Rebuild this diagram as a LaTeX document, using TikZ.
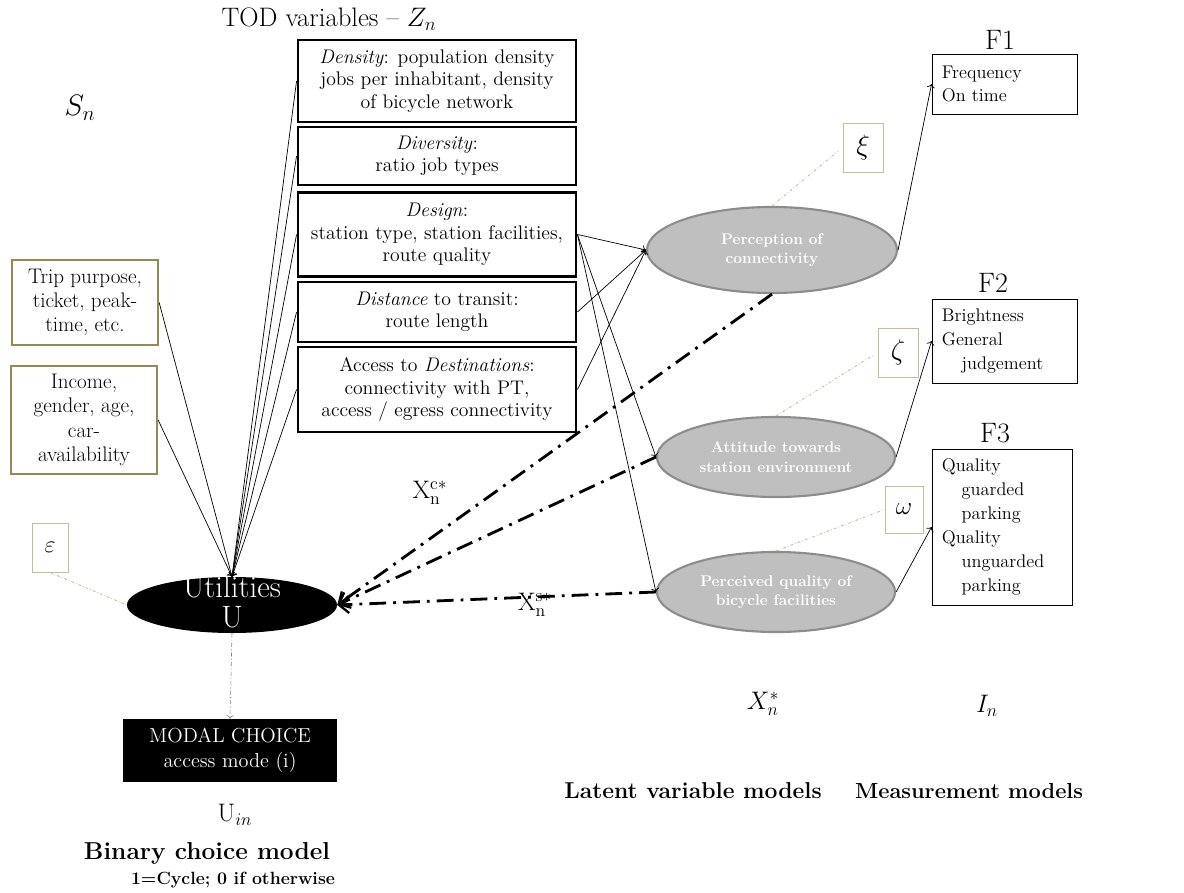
\RequirePackage{fix-cm}
\documentclass[tikz,border=0pt]{standalone}
\usepackage{amsmath, amssymb}
\usepackage{fontspec}
\usepackage{tikz}
\usetikzlibrary{shapes.geometric, arrows.meta, positioning}

\definecolor{olivebox}{HTML}{948A54}
\definecolor{tanline}{HTML}{C4BD97}
\definecolor{latentfill}{HTML}{BFBFBF}
\definecolor{latentdraw}{HTML}{8C8C8C}

\tikzset{
    todbox/.style={draw, line width=2pt, align=center, minimum width=6.95cm, inner sep=0pt, font=\fontsize{14}{15.8}\selectfont},
    sbox/.style={draw=olivebox, line width=1.6pt, align=center, minimum width=3.65cm, inner sep=0pt, font=\fontsize{15}{17.3}\selectfont},
    errbox/.style={draw=tanline, line width=0.6pt, minimum width=1cm, minimum height=1.225cm, inner sep=0pt, font=\fontsize{20}{22}\selectfont},
    latent/.style={ellipse, draw=latentdraw, line width=1.5pt, fill=latentfill, text=white, align=center, inner sep=0pt, font=\bfseries\fontsize{11}{14}\selectfont},
    measbox/.style={draw, line width=0.6pt, align=left, inner xsep=0.25cm, inner ysep=0pt, font=\fontsize{13}{17}\selectfont},
    thinarrow/.style={->, line width=0.5pt},
    latentarrow/.style={-{Straight Barb[length=7pt,width=12pt,line width=1.6pt]}, line width=2pt, dash pattern=on 12pt off 5pt on 2pt off 5pt},
    errline/.style={draw=tanline, line width=0.6pt, dash pattern=on 2pt off 1.5pt on 0.5pt off 1.5pt},
    bigtext/.style={font=\fontsize{18}{20}\selectfont},
    headtext/.style={font=\bfseries\fontsize{15.5}{18}\selectfont},
}

\begin{document}
\begin{tikzpicture}[x=0.025cm, y=-0.025cm]
    \useasboundingbox (0,0) rectangle (1184,893);

    \node[font=\fontsize{19}{22}\selectfont] (todtitle) at (329,19) {TOD variables -- $Z_n$};
    \node[todbox, minimum height=2.05cm] (density) at (437,81) {\textit{Density}: population density\\jobs per inhabitant, density\\of bicycle network};
    \node[todbox, minimum height=1.45cm] (diversity) at (437,156) {\textit{Diversity}:\\ratio job types};
    \node[todbox, minimum height=2.1cm] (design) at (437,234.5) {\textit{Design}:\\station type, station facilities,\\route quality};
    \node[todbox, minimum height=1.5cm] (distance) at (437,312) {\textit{Distance} to transit:\\route length};
    \node[todbox, minimum height=2.125cm] (access) at (437,389.5) {Access to \textit{Destinations}:\\connectivity with PT,\\access / egress connectivity};

    \node[font=\fontsize{21}{24}\selectfont] (sn) at (80,108) {$S_n$};
    \node[sbox, minimum height=2.125cm] (trip) at (85,302.5) {Trip purpose,\\ticket, peak-\\time, etc.};
    \node[sbox, minimum height=2.7cm] (income) at (84,420) {Income,\\gender, age,\\car-\\availability};
    \node[errbox, minimum width=0.9cm, font=\fontsize{17}{20}\selectfont] (eps) at (50,547.5) {$\varepsilon$};

    \node[ellipse, fill=black, minimum width=5.25cm, minimum height=1.4cm, inner sep=0pt] (util) at (232,605) {};
    \node[text=white, align=center, font=\fontsize{22}{21}\selectfont] (utiltext) at (232,602) {Utilities\\U};
    \node[fill=black, text=white, minimum width=5.35cm, minimum height=1.575cm, align=center, font=\fontsize{14.4}{18}\selectfont] (modal) at (230,750.5) {MODAL CHOICE\\access mode (i)};
    \node[bigtext] (uin) at (235,815) {$\mathrm{U}_{in}$};
    \node[font=\bfseries\fontsize{17.4}{20}\selectfont] (binary) at (207,853) {Binary choice model};
    \node[font=\bfseries\fontsize{12.6}{14}\selectfont] (cycle) at (233,880) {1=Cycle; 0 if otherwise};

    \node[latent, minimum width=6.25cm, minimum height=2.15cm] (percep) at (772,250) {Perception of\\connectivity};
    \node[latent, minimum width=5.95cm, minimum height=2cm] (attit) at (776,457) {Attitude towards\\station environment};
    \node[latent, minimum width=5.95cm, minimum height=2cm] (bikefac) at (776,592) {Perceived quality of\\bicycle facilities};
    \node[errbox] (xi) at (863,147.5) {$\xi$};
    \node[errbox] (zeta) at (898,352.5) {$\zeta$};
    \node[errbox, minimum width=0.95cm, minimum height=1.175cm, font=\fontsize{18}{20}\selectfont] (omega) at (904,509.5) {$\omega$};

    \node[font=\fontsize{20}{22}\selectfont] (flabone) at (1000,40) {F1};
    \node[measbox, text width=3.125cm, minimum height=1.5cm] (fone) at (1004.5,84) {Frequency\\On time};
    \node[font=\fontsize{20}{22}\selectfont] (flabtwo) at (993,283) {F2};
    \node[measbox, text width=3.125cm, minimum height=2.1cm] (ftwo) at (1004.5,341) {Brightness\\General\\\hspace*{14pt}judgement};
    \node[font=\fontsize{20}{22}\selectfont] (flabthree) at (995,433) {F3};
    \node[measbox, text width=3cm, minimum height=3.9cm] (fthree) at (1002,527) {Quality\\\hspace*{14pt}guarded\\\hspace*{14pt}parking\\Quality\\\hspace*{14pt}unguarded\\\hspace*{14pt}parking};

    \node[bigtext] (xstar) at (763,704) {$X_n^*$};
    \node[bigtext] (inlab) at (987,706) {$I_n$};
    \node[headtext, font=\bfseries\fontsize{16.3}{18}\selectfont] (latentlab) at (693,791) {Latent variable models};
    \node[headtext] (measlab) at (969,791) {Measurement models};
    \node[bigtext] (xc) at (430,493) {$\mathrm{X}_{\mathrm{n}}^{\mathrm{c}*}$};
    \node[bigtext] (xs) at (535,605) {$\mathrm{X}_{\mathrm{n}}^{\mathrm{s}*}$};

    \foreach \src in {trip, income}
        \draw[thinarrow] (\src.east) -- (util.north);
    \foreach \src in {density, diversity, design, distance, access}
        \draw[thinarrow] (\src.west) -- (util.north);
    \foreach \dst in {percep, attit, bikefac}
        \draw[thinarrow] (design.east) -- (\dst.west);
    \foreach \src in {distance, access}
        \draw[thinarrow] (\src.east) -- (percep.west);
    \draw[thinarrow] (percep.east) -- (fone.west);
    \draw[thinarrow] (attit.east) -- (ftwo.west);
    \draw[thinarrow] (bikefac.east) -- (fthree.west);

    \draw[latentarrow] (percep.south) -- (util.east);
    \draw[latentarrow] (attit.west) -- (util.east);
    \draw[latentarrow] (bikefac.west) -- (util.east);

    \draw[errline] (eps.south) -- (util.west);
    \draw[errline, shorten >=4pt] (percep.north) -- (xi.west);
    \draw[errline, shorten >=4pt] (attit.north) -- (zeta.west);
    \draw[errline] (bikefac.north) -- (omega.west);
    \draw[->, draw=gray, dash pattern=on 3pt off 1.5pt on 0.8pt off 1.5pt] (util.south) -- (modal.north);
\end{tikzpicture}
\end{document}
